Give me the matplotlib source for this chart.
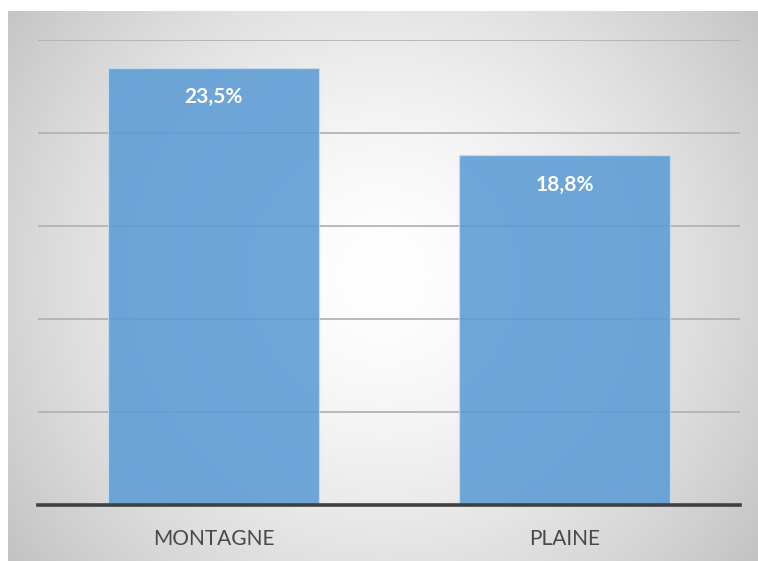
import numpy as np
import matplotlib
matplotlib.use("Agg")
import matplotlib.pyplot as plt

categories = ["MONTAGNE", "PLAINE"]
values = [23.5, 18.8]
value_labels = ["23,5%", "18,8%"]
y_ticks = [0, 5, 10, 15, 20, 25]

W, H = 758, 561
fig = plt.figure(figsize=(W / 100, H / 100), dpi=100)

# background radial gradient panel
bg = fig.add_axes([8 / W, 0, 750 / W, 550 / H])
bg.set_axis_off()
nx, ny = 750, 550
xx, yy = np.meshgrid(np.arange(nx), np.arange(ny))
cx, cy = nx * 0.5, ny * 0.48
d = np.sqrt((xx - cx) ** 2 + (yy - cy) ** 2) / np.sqrt(cx ** 2 + cy ** 2)
val = 255 - 58 * np.clip(d, 0, 1.2) ** 1.5
img = np.dstack([val, val, val]) / 255.0
bg.imshow(img, aspect="auto", extent=[0, 1, 0, 1], interpolation="bilinear")
bg.set_xlim(0, 1)
bg.set_ylim(0, 1)

ax = fig.add_axes([38 / W, (H - 505) / H, 702 / W, 465 / H])
ax.set_facecolor("none")
ax.set_xlim(-0.5, 1.5)
ax.set_ylim(0, 25)
ax.set_yticks(y_ticks)
ax.tick_params(axis="y", left=False, labelleft=False)
ax.grid(axis="y", color="#b3b3b3", lw=1.3, zorder=0)
ax.set_axisbelow(True)
for s in ax.spines.values():
    s.set_visible(False)

x = np.arange(len(categories))
bars = ax.bar(x, values, width=0.6, color="#5B9BD5", alpha=0.87,
              edgecolor="#c8ddf2", linewidth=0.9, zorder=2)

ax.axhline(0, color="#404040", lw=2.6, zorder=4, clip_on=False)

ax.set_xticks(x)
ax.set_xticklabels(categories, fontfamily="Lato", fontsize=15, color="#484848")
ax.tick_params(axis="x", length=0, pad=17)

for xi, v, lab in zip(x, values, value_labels):
    ax.annotate(lab, (xi, v), xytext=(0, -25.5), textcoords="offset points",
                ha="center", va="baseline", color="white", fontsize=15,
                fontweight="bold", fontfamily="Lato", zorder=5)

fig.savefig("out.png", dpi=100)
